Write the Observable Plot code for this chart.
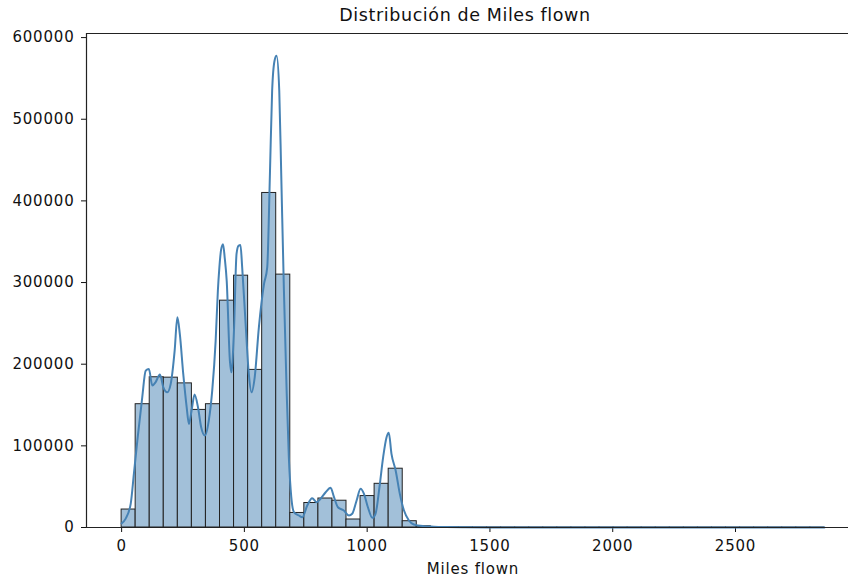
<!DOCTYPE html>
<html>
<head>
<meta charset="utf-8">
<script src="https://cdn.jsdelivr.net/npm/d3@7"></script>
<script src="https://cdn.jsdelivr.net/npm/@observablehq/plot@0.6"></script>
<style>
  html, body { margin: 0; padding: 0; background: #fff; width: 848px; height: 579px; overflow: hidden; position: relative; }
  #title { position: absolute; left: 0; top: 0; width: 930px; height: 28px; line-height: 30px; text-align: center;
           font-family: "DejaVu Sans", sans-serif; font-size: 17.5px; letter-spacing: 0.6px; color: #111; }
  #chart { position: absolute; left: 0; top: 28px; width: 848px; height: 551px; overflow: hidden; }
  #chart svg { max-width: none !important; }
  #chart svg text { letter-spacing: 0.8px; }
</style>
</head>
<body>
<div id="title">Distribución de Miles flown</div>
<div id="chart"></div>
<script>
// Histogram bin edges (miles) and counts
const binEdges = [0, 57.2, 114.5, 171.7, 229.0, 286.2, 343.4, 400.7, 457.9, 515.2, 572.4, 629.6, 686.9, 744.1,
  801.4, 858.6, 915.8, 973.1, 1030.3, 1087.6, 1144.8, 1202.0, 1259.3, 1316.5, 1373.8, 1431.0, 1488.2, 1545.5,
  1602.7, 1660.0, 1717.2, 1774.4, 1831.7, 1888.9, 1946.2, 2003.4, 2060.6, 2117.9, 2175.1, 2232.4, 2289.6,
  2346.8, 2404.1, 2461.3, 2518.6, 2575.8, 2633.0, 2690.3, 2747.5, 2804.8, 2862.0];
const binCounts = [22000, 151000, 184000, 183500, 176500, 144000, 151000, 277800, 308400, 193000,
  409700, 309700, 17800, 30000, 35500, 32800, 9800, 38500, 53500, 72000,
  7700, 1500, 600, 300, 200, 120, 100, 80, 60, 50,
  40, 40, 30, 30, 20, 20, 20, 10, 10, 10,
  10, 10, 10, 5, 5, 5, 5, 5, 5, 5];

// KDE curve (scaled to counts)
const kdeMiles = [0, 16, 37, 50, 64, 84, 98, 111, 125, 138, 156, 170, 186, 200, 216, 227, 237, 251, 265, 274,
  285, 297, 311, 324, 339, 355, 369, 383, 392, 398, 405, 413, 420, 428, 441, 447, 457, 468, 476, 484, 491,
  505, 518, 529, 542, 559, 580, 593, 604, 613, 623, 631, 642, 650, 661, 672, 681, 691, 702, 722, 736, 756,
  776, 794, 810, 831, 851, 865, 881, 905, 926, 939, 957, 973, 987, 1003, 1021, 1034, 1050, 1065, 1079, 1088,
  1099, 1116, 1133, 1150, 1170, 1190, 1231, 1271, 1320, 1400, 1500, 1700, 2000, 2400, 2862];
const kdeValues = [5000, 10600, 29000, 65700, 106500, 159500, 192000, 194000, 173800, 177800, 187300, 171700,
  165600, 175900, 216600, 257400, 237000, 188100, 147200, 126900, 143200, 162800, 147200, 122800, 112600,
  131000, 167700, 228900, 290000, 318000, 340000, 347000, 330000, 302000, 204000, 190000, 237000, 335000,
  345000, 346000, 318600, 249300, 188100, 165600, 184000, 245200, 298300, 318600, 432900, 534900, 572000,
  577700, 534900, 432900, 290100, 167700, 86000, 37100, 18700, 14700, 12600, 26900, 35900, 31000, 35100,
  43200, 48600, 37100, 24800, 20800, 14700, 16800, 33000, 47400, 41200, 24800, 11800, 16800, 49300, 86000,
  110500, 115900, 90200, 69800, 41200, 20800, 8600, 3700, 1600, 1000, 600, 300, 150, 80, 50, 30, 10];

const xTicks = [0, 500, 1000, 1500, 2000, 2500];
const yTicks = [0, 100000, 200000, 300000, 400000, 500000, 600000];
const xLabel = "Miles flown";
const xDomain = [-143, 3005];
const yDomain = [0, 605000];

const bins = binCounts.map((c, i) => ({x1: binEdges[i], x2: binEdges[i + 1], count: c}));
const kde = kdeMiles.map((m, i) => ({miles: m, value: kdeValues[i]}));

const chart = Plot.plot({
  width: 870,
  height: 551,
  marginLeft: 86,
  marginRight: 11,
  marginTop: 5,
  marginBottom: 52,
  style: {fontFamily: "DejaVu Sans, sans-serif", fontSize: "15px", background: "#fff", color: "#111", maxWidth: "none"},
  x: {domain: xDomain, ticks: xTicks, tickFormat: d => String(d), tickSize: 5, tickPadding: 8,
      label: xLabel, labelAnchor: "center", labelArrow: "none", labelOffset: 46},
  y: {domain: yDomain, ticks: yTicks, tickFormat: d => String(d), tickSize: 5, tickPadding: 7, label: null},
  marks: [
    Plot.rectY(bins, {x1: "x1", x2: "x2", y: "count", fill: "#a2c0d9", stroke: "#222", strokeWidth: 1}),
    Plot.line(kde, {x: "miles", y: "value", stroke: "#4682b4", strokeWidth: 2, curve: "monotone-x"}),
    Plot.ruleY([yDomain[0]], {stroke: "#222", strokeWidth: 1.2}),
    Plot.ruleY([yDomain[1]], {stroke: "#222", strokeWidth: 1.2}),
    Plot.ruleX([xDomain[0]], {stroke: "#222", strokeWidth: 1.2})
  ]
});
document.getElementById("chart").appendChild(chart);
</script>
</body>
</html>
